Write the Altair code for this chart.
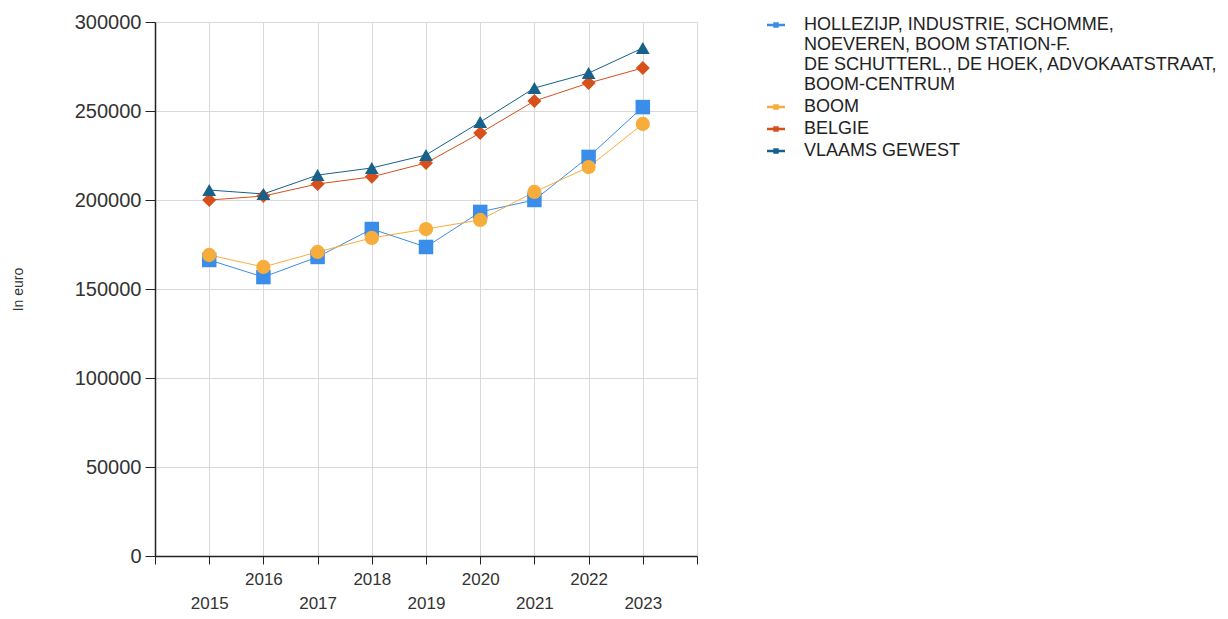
import altair as alt
import pandas as pd

years = [2015, 2016, 2017, 2018, 2019, 2020, 2021, 2022, 2023]
series_names = [
    "HOLLEZIJP, INDUSTRIE, SCHOMME,|NOEVEREN, BOOM STATION-F.|DE SCHUTTERL., DE HOEK, ADVOKAATSTRAAT,|BOOM-CENTRUM",
    "BOOM",
    "BELGIE",
    "VLAAMS GEWEST",
]
marker_ids = ["m1", "m2", "m3", "m4"]
hollezijp = [166300, 156700, 168000, 183700, 173600, 193300, 200000, 224200, 252200]
boom = [169100, 162400, 170800, 178700, 183700, 188800, 204500, 218500, 242700]
belgie = [200000, 202200, 209000, 213000, 220800, 237600, 255600, 265700, 274200]
vlaams = [205600, 203400, 214000, 218000, 225300, 243800, 262900, 271300, 285400]
y_ticks = [0, 50000, 100000, 150000, 200000, 250000, 300000]
x_ticks = list(range(2014, 2025))

colors = ["#3a8de8", "#f7ad3c", "#d6501c", "#17618a"]
shapes = ["square", "circle", "diamond", "triangle-up"]
sizes = [210, 190, 170, 210]

rows = []
for name, mid, vals in zip(series_names, marker_ids, [hollezijp, boom, belgie, vlaams]):
    for yr, v in zip(years, vals):
        rows.append({"year": yr, "value": v, "series": name, "marker": mid})
df = pd.DataFrame(rows)

FONT = "Liberation Sans"

x_enc = alt.X(
    "year:Q",
    scale=alt.Scale(domain=[2014, 2024], nice=False, zero=False),
    axis=alt.Axis(
        values=x_ticks,
        format="d",
        title=None,
        labelExpr="datum.value < 2015 || datum.value > 2023 ? '' : (datum.value % 2 == 1 ? ['', datum.label] : datum.label)",
        labelFontSize=17,
        labelLineHeight=24,
        labelPadding=7,
        labelColor="#333333",
        tickSize=8,
        tickColor="#222222",
        domainColor="#222222",
        domainWidth=1.5,
        gridColor="#d9d9d9",
        labelFlush=False,
        labelOverlap=False,
    ),
)
y_enc = alt.Y(
    "value:Q",
    scale=alt.Scale(domain=[0, 300000], nice=False),
    axis=alt.Axis(
        values=y_ticks,
        format="d",
        title="In euro",
        titleFontSize=14,
        titleFontWeight="normal",
        titleColor="#333333",
        titleAngle=270,
        titleX=-137,
        titleY=267,
        titleAlign="center",
        titleBaseline="middle",
        labelFontSize=20,
        labelColor="#333333",
        labelPadding=4,
        tickSize=10,
        tickColor="#222222",
        domainColor="#222222",
        domainWidth=1.5,
        gridColor="#d9d9d9",
        labelFlush=False,
    ),
)

legend = alt.Legend(
    title=None,
    orient="none",
    legendX=612,
    legendY=-6,
    symbolType="M-1.8,0L1.8,0M-0.3,-0.3L0.3,-0.3L0.3,0.3L-0.3,0.3Z",
    symbolSize=100,
    symbolStrokeWidth=2.5,
    labelOffset=19,
    labelFontSize=18,
    labelColor="#222222",
    labelLimit=600,
    labelExpr="split(datum.label, '|')",
    rowPadding=4,
    padding=0,
)

color_enc = alt.Color(
    "series:N",
    scale=alt.Scale(domain=series_names, range=colors),
    sort=series_names,
    legend=legend,
)

base = alt.Chart(df)
lines = base.mark_line(strokeWidth=1).encode(x=x_enc, y=y_enc, color=color_enc)
points = base.mark_point(filled=True, opacity=1, strokeWidth=0).encode(
    x=x_enc,
    y=y_enc,
    fill=alt.Fill("marker:N", scale=alt.Scale(domain=marker_ids, range=colors), legend=None),
    shape=alt.Shape("marker:N", scale=alt.Scale(domain=marker_ids, range=shapes), legend=None),
    size=alt.Size("marker:N", scale=alt.Scale(domain=marker_ids, range=sizes), legend=None),
)

chart = (
    alt.layer(lines, points)
    .properties(
        width=542,
        height=534,
        autosize=alt.AutoSizeParams(type="none"),
        padding={"left": 147, "top": 14, "right": 521, "bottom": 55},
    )
    .configure_view(stroke=None)
    .configure(font=FONT)
)

chart.save("out.html", embed_options={"renderer": "svg", "actions": False})
